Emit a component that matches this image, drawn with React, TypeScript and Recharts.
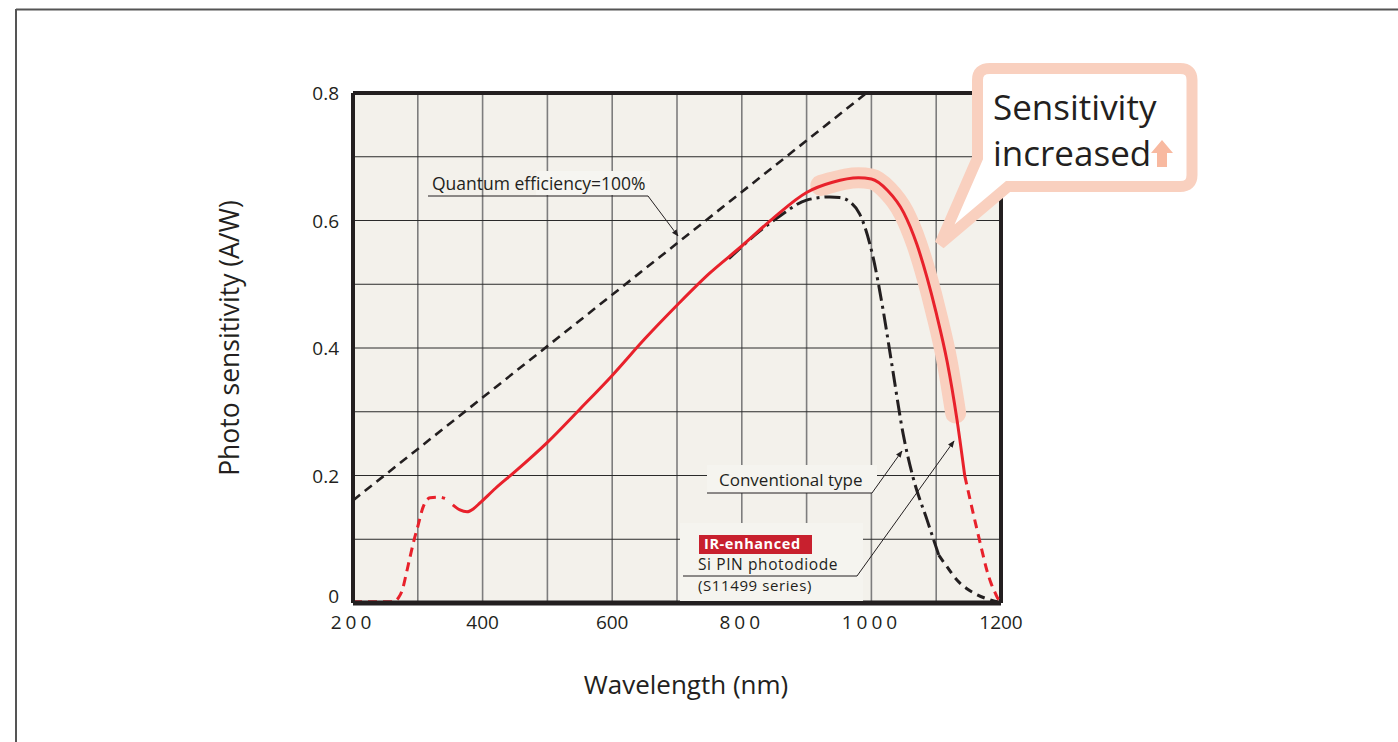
import React from 'react';
import { LineChart, Line, XAxis, YAxis, ReferenceLine, CartesianGrid } from 'recharts';

// axis ticks and grid
const xTicks = [200, 400, 600, 800, 1000, 1200];
const yTicks = [0, 0.2, 0.4, 0.6, 0.8];
const gridX = [300, 400, 500, 600, 700, 800, 900, 1000, 1100];
const gridY = [0.1, 0.2, 0.3, 0.4, 0.5, 0.6, 0.7];

// Quantum efficiency = 100% line
const qeNm = [200, 990];
const qeVal = [0.161, 0.798];

// IR-enhanced Si PIN photodiode (dashed UV part, solid part, dashed IR tail)
const redUvNm = [200, 230, 262, 270, 276, 282, 288, 294, 300, 308, 319, 334, 342];
const redUvVal = [0.002, 0.002, 0.002, 0.008, 0.02, 0.045, 0.072, 0.098, 0.12, 0.15, 0.165, 0.166, 0.164];
const redNm = [354, 365, 376, 386, 396, 420, 450, 500, 550, 600, 650, 700, 750, 800, 850, 900, 940, 980, 1000, 1025, 1050, 1070, 1086, 1100, 1117, 1132, 1144];
const redVal = [0.154, 0.146, 0.143, 0.148, 0.157, 0.18, 0.206, 0.252, 0.304, 0.357, 0.414, 0.467, 0.517, 0.56, 0.605, 0.644, 0.66, 0.667, 0.665, 0.647, 0.612, 0.563, 0.51, 0.455, 0.378, 0.288, 0.2];
const redIrNm = [1144, 1155, 1163, 1170, 1178, 1185, 1191, 1196, 1200];
const redIrVal = [0.2, 0.15, 0.115, 0.085, 0.052, 0.03, 0.016, 0.006, 0.004];

// highlighted part of the IR-enhanced curve
const bandNm = [922, 940, 960, 980, 1000, 1025, 1050, 1070, 1086, 1100, 1117, 1130];
const bandVal = [0.655, 0.66, 0.665, 0.667, 0.665, 0.647, 0.612, 0.563, 0.51, 0.455, 0.378, 0.298];

// Conventional type
const convNm = [780, 820, 860, 900, 936, 951, 967, 982, 1002, 1018, 1033, 1049, 1064, 1086, 1104];
const convVal = [0.54, 0.577, 0.608, 0.632, 0.637, 0.636, 0.629, 0.61, 0.545, 0.46, 0.365, 0.265, 0.198, 0.13, 0.075];
const convTailNm = [1104, 1118, 1132, 1148, 1163, 1180, 1194, 1200];
const convTailVal = [0.075, 0.055, 0.036, 0.022, 0.013, 0.006, 0.002, 0.001];

const toPoints = (xs: number[], ys: number[]) => xs.map((x, i) => ({ x, y: ys[i] }));

const INK = '#231f20';
const RED = '#e8212b';
const PINK = '#f9d0bf';
const FONT = '"Open Sans", "Noto Sans", sans-serif';

const xSpacing: Record<number, number> = { 200: 4, 400: 0, 600: 0, 800: 4, 1000: 4, 1200: 0 };

const XTick = ({ x, y, payload }: any) => (
  <text x={x} y={y + 18} textAnchor="middle" fill={INK} fontFamily={FONT}
    style={{ fontSize: 19 }} letterSpacing={xSpacing[payload.value] ?? 0}>
    {payload.value}
  </text>
);

const YTick = ({ x, y, payload }: any) => (
  <text x={x - 6} y={y + (payload.value === 0 ? 0 : 7)} textAnchor="end" fill={INK} fontFamily={FONT}
    style={{ fontSize: 19 }}>
    {payload.value === 0 ? '0' : payload.value.toFixed(1)}
  </text>
);

const Overlay = () => (
  <svg width={1398} height={742} style={{ position: 'absolute', left: 0, top: 0, pointerEvents: 'none' }}>
    <defs>
      <marker id="arr" viewBox="0 0 10 10" refX="9" refY="5" markerWidth="7" markerHeight="7" orient="auto">
        <path d="M0,1 L10,5 L0,9 z" fill={INK} />
      </marker>
    </defs>
    {/* outer frame */}
    <line x1={16} y1={9.5} x2={1398} y2={9.5} stroke="#555" strokeWidth={2} />
    <line x1={16} y1={9} x2={16} y2={742} stroke="#555" strokeWidth={2} />

    {/* axis titles */}
    <text x={686} y={694} textAnchor="middle" fontSize={26} fill={INK} fontFamily={FONT}>Wavelength (nm)</text>
    <text transform="translate(239,338) rotate(-90)" textAnchor="middle" fontSize={26.5} fill={INK} fontFamily={FONT}>
      Photo sensitivity (A/W)
    </text>

    {/* Quantum efficiency label */}
    <rect x={536} y={171} width={114} height={24} fill="#f6f5f1" />
    <text x={432} y={190} fontSize={17.5} fill={INK} fontFamily={FONT}>Quantum efficiency=100%</text>
    <polyline points="428,196 648,196 678,236" fill="none" stroke={INK} strokeWidth={1} markerEnd="url(#arr)" />

    {/* Conventional type label */}
    <rect x={707} y={465} width={170} height={28} fill="#f5f4ef" />
    <text x={719} y={486} fontSize={17} fill={INK} fontFamily={FONT}>Conventional type</text>
    <polyline points="707,493 872,493 902,451" fill="none" stroke={INK} strokeWidth={1} markerEnd="url(#arr)" />

    {/* IR-enhanced label */}
    <rect x={680} y={523} width={183} height={78} fill="#f5f4ef" />
    <rect x={699} y={535} width={113} height={19} fill="#c8202e" />
    <text x={704} y={549} fontSize={14.5} fontWeight={700} letterSpacing={0.6} fill="#fff" fontFamily={FONT}>IR-enhanced</text>
    <text x={698} y={570} fontSize={15.5} letterSpacing={0.6} fill={INK} fontFamily={FONT}>Si PIN photodiode</text>
    <text x={698} y={591} fontSize={15} letterSpacing={0.6} fill={INK} fontFamily={FONT}>(S11499 series)</text>
    <polyline points="683,576 857,576 954,441" fill="none" stroke={INK} strokeWidth={1} markerEnd="url(#arr)" />

    {/* callout */}
    <path d="M 990,68.5 H 1180 Q 1192,68.5 1192,80 V 175 Q 1192,186.5 1180,186.5 H 1008 L 940,244 L 977.5,158 V 80 Q 977.5,68.5 990,68.5 Z"
      fill="#fff" stroke={PINK} strokeWidth={11} />
    <text x={993} y={120} fontSize={35} fill={INK} fontFamily={FONT}>Sensitivity</text>
    <text x={993} y={166} fontSize={35} fill={INK} fontFamily={FONT}>increased</text>
    <path d="M 1162,140 L 1173,153 L 1167,153 L 1167,167 L 1157,167 L 1157,153 L 1151,153 Z" fill="#f8b9a0" />
  </svg>
);

export default function App() {
  return (
    <div style={{ position: 'absolute', left: 0, top: 0, width: 1398, height: 742, background: '#fff' }}>
      <LineChart width={1398} height={742} margin={{ top: 93, right: 397, bottom: 109, left: 293 }}>
        <CartesianGrid fill="#f3f1eb" horizontal={false} vertical={false} />
        <XAxis type="number" dataKey="x" domain={[200, 1200]} ticks={xTicks} tick={<XTick />} tickLine={false}
          axisLine={{ stroke: INK, strokeWidth: 5 }} height={30} allowDataOverflow />
        <YAxis type="number" dataKey="y" domain={[0, 0.8]} ticks={yTicks} tick={<YTick />} tickLine={false}
          axisLine={{ stroke: INK, strokeWidth: 4 }} width={60} allowDataOverflow />
        {gridX.map((g) => (
          <ReferenceLine key={'gx' + g} x={g} stroke="#7d7d7d" strokeWidth={1.6} />
        ))}
        {gridY.map((g) => (
          <ReferenceLine key={'gy' + g} y={g} stroke="#2a2a2a" strokeWidth={1} />
        ))}
        <ReferenceLine y={0.8} stroke={INK} strokeWidth={4} />
        <ReferenceLine x={1200} stroke={INK} strokeWidth={4} />

        <Line data={toPoints(qeNm, qeVal)} dataKey="y" type="linear" stroke={INK} strokeWidth={2.6}
          strokeDasharray="9 6" dot={false} isAnimationActive={false} />
        <Line data={toPoints(bandNm, bandVal)} dataKey="y" type="monotone" stroke={PINK} strokeWidth={21}
          strokeLinecap="round" dot={false} isAnimationActive={false} />
        <Line data={toPoints(convNm, convVal)} dataKey="y" type="monotone" stroke={INK} strokeWidth={3}
          strokeDasharray="16 5 3 5" dot={false} isAnimationActive={false} />
        <Line data={toPoints(convTailNm, convTailVal)} dataKey="y" type="monotone" stroke={INK} strokeWidth={3}
          strokeDasharray="8 6" dot={false} isAnimationActive={false} />
        <Line data={toPoints(redUvNm, redUvVal)} dataKey="y" type="monotone" stroke={RED} strokeWidth={3}
          strokeDasharray="9 6" dot={false} isAnimationActive={false} />
        <Line data={toPoints(redNm, redVal)} dataKey="y" type="monotone" stroke={RED} strokeWidth={3}
          dot={false} isAnimationActive={false} />
        <Line data={toPoints(redIrNm, redIrVal)} dataKey="y" type="monotone" stroke={RED} strokeWidth={3}
          strokeDasharray="9 6" dot={false} isAnimationActive={false} />
      </LineChart>
      <Overlay />
    </div>
  );
}
